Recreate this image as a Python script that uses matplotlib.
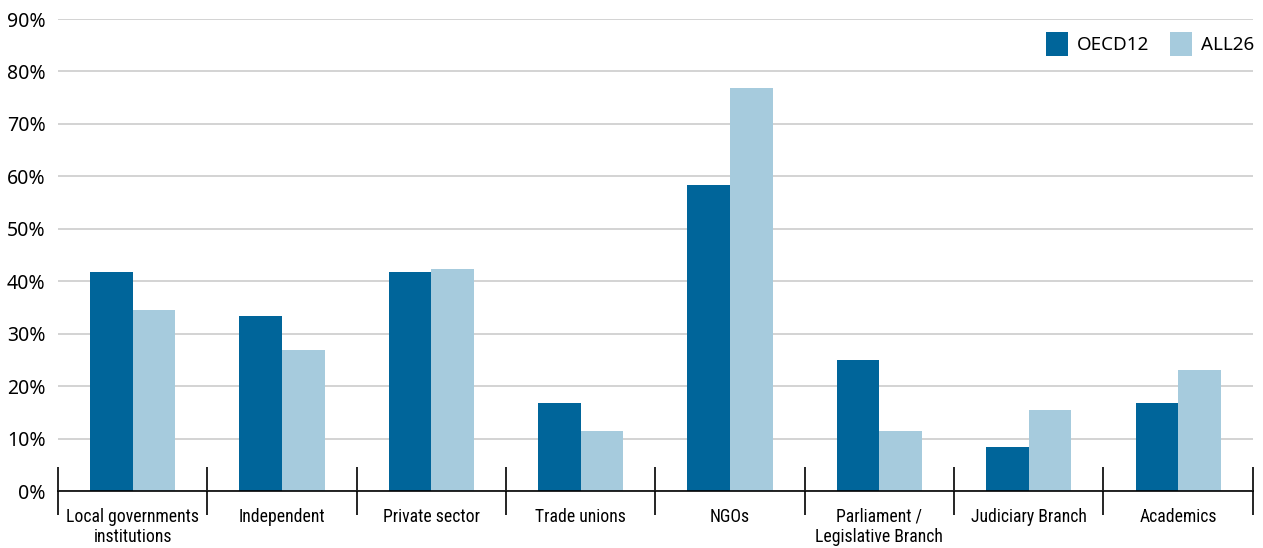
import numpy as np
import matplotlib.pyplot as plt
from matplotlib import font_manager
from matplotlib.ticker import FixedLocator, PercentFormatter

categories = ["Local governments\ninstitutions", "Independent", "Private sector",
              "Trade unions", "NGOs", "Parliament /\nLegislative Branch",
              "Judiciary Branch", "Academics"]
oecd12 = [41.7, 33.3, 41.7, 16.7, 58.3, 25.0, 8.3, 16.7]
all26 = [34.6, 26.9, 42.3, 11.5, 76.9, 11.5, 15.4, 23.1]
yticks = [0, 10, 20, 30, 40, 50, 60, 70, 80, 90]

dark = "#00659a"
light = "#a6cbdd"

# narrow face for the category labels, if one is there
names = set(f.name for f in font_manager.fontManager.ttflist)
narrow = None
for cand in ["Liberation Sans Narrow", "Roboto Condensed", "Open Sans Condensed",
             "Noto Sans Condensed", "DejaVu Sans Condensed"]:
    if cand in names:
        narrow = cand
        break
if narrow is None:
    narrow_font = {"family": "DejaVu Sans", "stretch": "condensed"}
else:
    narrow_font = {"family": narrow}

fig = plt.figure(figsize=(12.63, 5.48), dpi=100)
ax = fig.add_axes([0.0459, 0.104, 0.946, 0.8613])

x = np.arange(len(categories))
w = 0.285
ax.bar(x - w / 2, oecd12, w, color=dark, label="OECD12", zorder=3)
ax.bar(x + w / 2, all26, w, color=light, label="ALL26", zorder=3)

ax.set_xlim(-0.5, len(categories) - 0.5)
ax.set_ylim(0, 90)
ax.set_yticks(yticks)
ax.yaxis.set_major_formatter(PercentFormatter(decimals=0))
ax.grid(axis="y", color="#cccccc", linewidth=1.2, zorder=0)

for s in ["top", "right", "left"]:
    ax.spines[s].set_visible(False)
ax.spines["bottom"].set_color("black")
ax.spines["bottom"].set_linewidth(1.2)
ax.spines["bottom"].set_zorder(4)

ax.set_xticks(x)
ax.set_xticklabels(categories, fontsize=12.7, linespacing=1.2, **narrow_font)
ax.tick_params(axis="x", which="major", length=0, pad=12)
ax.xaxis.set_minor_locator(FixedLocator(np.arange(-0.5, len(categories), 1.0)))
ax.tick_params(axis="x", which="minor", direction="inout", length=35, width=1.2, color="black")
ax.tick_params(axis="y", length=0, pad=9, labelsize=14)
for lab in ax.get_yticklabels():
    lab.set_family(["Noto Sans", "DejaVu Sans"])

ax.legend(loc="upper right", bbox_to_anchor=(1.015, 1.008), ncol=2, frameon=False,
          handlelength=1.2, handleheight=1.55, handletextpad=0.45, columnspacing=1.1,
          prop={"family": "Noto Sans", "size": 13.5})

fig.savefig("out.png", dpi=100)
